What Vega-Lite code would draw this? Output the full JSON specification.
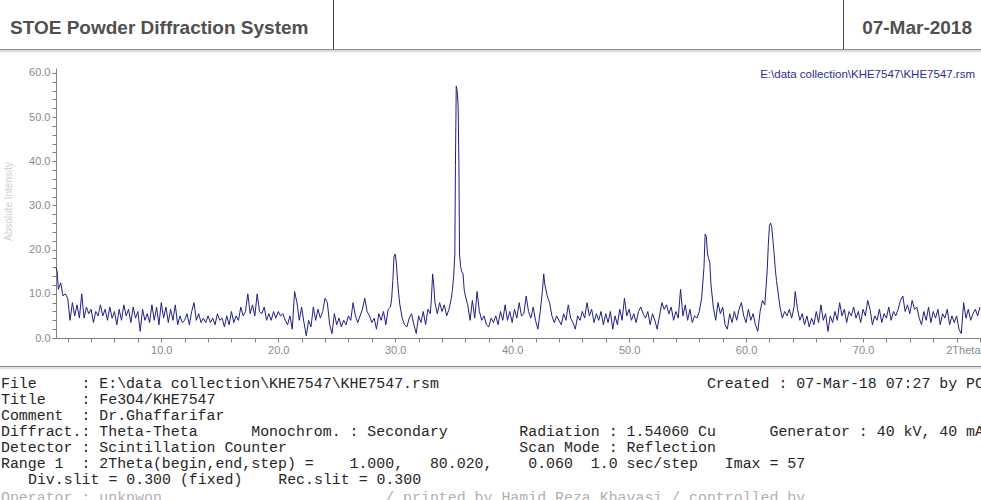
{
  "$schema": "https://vega.github.io/schema/vega-lite/v6.json",
  "width": 924,
  "height": 270,
  "autosize": {"type": "none"},
  "padding": {"left": 56, "top": 68, "right": 1, "bottom": 162},
  "background": "white",
  "config": {"view": {"stroke": null}, "font": "Liberation Sans"},
  "layer": [
    {
      "data": {"values": [{}]},
      "layer": [
        {"mark": {"type": "rule", "color": "#dcdcdc", "strokeWidth": 2.5}, "encoding": {"x": {"value": -56}, "x2": {"value": 925}, "y": {"value": -17}, "y2": {"value": -17}}},
        {"mark": {"type": "rule", "color": "#8c8c8c", "strokeWidth": 1}, "encoding": {"x": {"value": -56}, "x2": {"value": 925}, "y": {"value": -18.5}, "y2": {"value": -18.5}}},
        {"mark": {"type": "rule", "color": "#444444", "strokeWidth": 1}, "encoding": {"x": {"value": 277.5}, "x2": {"value": 277.5}, "y": {"value": -68}, "y2": {"value": -18.5}}},
        {"mark": {"type": "rule", "color": "#444444", "strokeWidth": 1}, "encoding": {"x": {"value": 787.5}, "x2": {"value": 787.5}, "y": {"value": -68}, "y2": {"value": -18.5}}},
        {"mark": {"type": "rule", "color": "#e0e0e0", "strokeWidth": 2.5}, "encoding": {"x": {"value": -56}, "x2": {"value": 925}, "y": {"value": 300}, "y2": {"value": 300}}},
        {"mark": {"type": "rule", "color": "#8c8c8c", "strokeWidth": 1}, "encoding": {"x": {"value": -56}, "x2": {"value": 925}, "y": {"value": 298.5}, "y2": {"value": 298.5}}},
        {"mark": {"type": "text", "x": -46, "y": -34, "align": "left", "baseline": "alphabetic", "font": "Liberation Sans", "fontSize": 19, "fontWeight": "bold", "color": "#505050", "text": "STOE Powder Diffraction System"}, "encoding": {}},
        {"mark": {"type": "text", "x": 916, "y": -34, "align": "right", "baseline": "alphabetic", "font": "Liberation Sans", "fontSize": 19, "fontWeight": "bold", "color": "#505050", "text": "07-Mar-2018"}, "encoding": {}},
        {"mark": {"type": "text", "x": 919, "y": 7, "align": "right", "baseline": "middle", "font": "Liberation Sans", "fontSize": 11.5, "color": "#2b2d8e", "text": "E:\\data collection\\KHE7547\\KHE7547.rsm"}, "encoding": {}},
        {"mark": {"type": "text", "x": -55, "y": 308, "align": "left", "baseline": "top", "font": "Liberation Mono", "fontSize": 14.9, "lineHeight": 16, "color": "#262626", "text": [
          "File\u00a0\u00a0\u00a0\u00a0\u00a0:\u00a0E:\\data\u00a0collection\\KHE7547\\KHE7547.rsm\u00a0\u00a0\u00a0\u00a0\u00a0\u00a0\u00a0\u00a0\u00a0\u00a0\u00a0\u00a0\u00a0\u00a0\u00a0\u00a0\u00a0\u00a0\u00a0\u00a0\u00a0\u00a0\u00a0\u00a0\u00a0\u00a0\u00a0\u00a0\u00a0\u00a0Created\u00a0:\u00a007-Mar-18\u00a007:27\u00a0by\u00a0PC",
          "Title\u00a0\u00a0\u00a0\u00a0:\u00a0Fe3O4/KHE7547",
          "Comment\u00a0\u00a0:\u00a0Dr.Ghaffarifar",
          "Diffract.:\u00a0Theta-Theta\u00a0\u00a0\u00a0\u00a0\u00a0\u00a0Monochrom.\u00a0:\u00a0Secondary\u00a0\u00a0\u00a0\u00a0\u00a0\u00a0\u00a0\u00a0Radiation\u00a0:\u00a01.54060\u00a0Cu\u00a0\u00a0\u00a0\u00a0\u00a0\u00a0Generator\u00a0:\u00a040\u00a0kV,\u00a040\u00a0mA",
          "Detector\u00a0:\u00a0Scintillation\u00a0Counter\u00a0\u00a0\u00a0\u00a0\u00a0\u00a0\u00a0\u00a0\u00a0\u00a0\u00a0\u00a0\u00a0\u00a0\u00a0\u00a0\u00a0\u00a0\u00a0\u00a0\u00a0\u00a0\u00a0\u00a0\u00a0\u00a0Scan\u00a0Mode\u00a0:\u00a0Reflection",
          "Range\u00a01\u00a0\u00a0:\u00a02Theta(begin,end,step)\u00a0=\u00a0\u00a0\u00a0\u00a01.000,\u00a0\u00a0\u00a080.020,\u00a0\u00a0\u00a0\u00a00.060\u00a0\u00a01.0\u00a0sec/step\u00a0\u00a0\u00a0Imax\u00a0=\u00a057"
        ]}, "encoding": {}},
        {"mark": {"type": "text", "x": -28, "y": 404, "align": "left", "baseline": "top", "font": "Liberation Mono", "fontSize": 14.9, "color": "#262626", "text": "Div.slit\u00a0=\u00a00.300\u00a0(fixed)\u00a0\u00a0\u00a0\u00a0Rec.slit\u00a0=\u00a00.300"}, "encoding": {}},
        {"mark": {"type": "text", "x": -55, "y": 422, "align": "left", "baseline": "top", "font": "Liberation Mono", "fontSize": 14.9, "color": "#b0b0b0", "text": "Operator\u00a0:\u00a0unknwon\u00a0\u00a0\u00a0\u00a0\u00a0\u00a0\u00a0\u00a0\u00a0\u00a0\u00a0\u00a0\u00a0\u00a0\u00a0\u00a0\u00a0\u00a0\u00a0\u00a0\u00a0\u00a0\u00a0\u00a0\u00a0/\u00a0printed\u00a0by\u00a0Hamid\u00a0Reza\u00a0Khavasi\u00a0/\u00a0controlled\u00a0by"}, "encoding": {}}
      ]
    },
    {
      "data": {"values": [
        {"angle":1.0,"count":16},{"angle":1.1,"count":15},{"angle":1.2,"count":11},{"angle":1.4,"count":12.5},{"angle":1.6,"count":9.5},{"angle":1.8,"count":10},{"angle":2.0,"count":9},{"angle":2.2,"count":4},{"angle":2.4,"count":8},{"angle":2.6,"count":5},{"angle":2.8,"count":7.5},{"angle":3.0,"count":4.5},{"angle":3.2,"count":10},{"angle":3.4,"count":4.5},{"angle":3.6,"count":7},{"angle":3.8,"count":5.5},{"angle":4.0,"count":6.5},{"angle":4.2,"count":3.5},{"angle":4.4,"count":6},{"angle":4.6,"count":5},{"angle":4.8,"count":7.5},{"angle":5.0,"count":5},{"angle":5.2,"count":6.5},{"angle":5.4,"count":4},{"angle":5.6,"count":7},{"angle":5.8,"count":4.5},{"angle":6.0,"count":6},{"angle":6.2,"count":3},{"angle":6.4,"count":6.5},{"angle":6.6,"count":4},{"angle":6.8,"count":7.5},{"angle":7.0,"count":5},{"angle":7.2,"count":6.5},{"angle":7.4,"count":3.5},{"angle":7.6,"count":7},{"angle":7.8,"count":4.5},{"angle":8.0,"count":6},{"angle":8.2,"count":1.5},{"angle":8.4,"count":6.5},{"angle":8.6,"count":4},{"angle":8.8,"count":5.5},{"angle":9.0,"count":3.5},{"angle":9.2,"count":7.5},{"angle":9.4,"count":4},{"angle":9.6,"count":7},{"angle":9.8,"count":3},{"angle":10.0,"count":8},{"angle":10.2,"count":4.5},{"angle":10.4,"count":7},{"angle":10.6,"count":3.5},{"angle":10.8,"count":6.5},
        {"angle":11.0,"count":4},{"angle":11.2,"count":7.5},{"angle":11.4,"count":3},{"angle":11.6,"count":5},{"angle":11.8,"count":3.5},{"angle":12.0,"count":4},{"angle":12.2,"count":5.5},{"angle":12.4,"count":3},{"angle":12.6,"count":6},{"angle":12.8,"count":8},{"angle":13.0,"count":4},{"angle":13.2,"count":5.5},{"angle":13.4,"count":3.5},{"angle":13.6,"count":4.5},{"angle":13.8,"count":3.5},{"angle":14.0,"count":5},{"angle":14.2,"count":3.5},{"angle":14.4,"count":4.5},{"angle":14.6,"count":3},{"angle":14.8,"count":5.5},{"angle":15.0,"count":4},{"angle":15.2,"count":4.5},{"angle":15.4,"count":2.5},{"angle":15.6,"count":5},{"angle":15.8,"count":3},{"angle":16.0,"count":6},{"angle":16.2,"count":3.5},{"angle":16.4,"count":5},{"angle":16.6,"count":4},{"angle":16.8,"count":7},{"angle":17.0,"count":5},{"angle":17.2,"count":6},{"angle":17.4,"count":10},{"angle":17.6,"count":5.5},{"angle":17.8,"count":7.5},{"angle":18.0,"count":5},{"angle":18.2,"count":10},{"angle":18.4,"count":6},{"angle":18.6,"count":5.5},{"angle":18.8,"count":7},{"angle":19.0,"count":4},{"angle":19.2,"count":5.5},{"angle":19.4,"count":4},{"angle":19.6,"count":6},{"angle":19.8,"count":4.5},{"angle":20.0,"count":6},{"angle":20.2,"count":5},{"angle":20.4,"count":5.5},{"angle":20.6,"count":4},{"angle":20.8,"count":3},
        {"angle":21.0,"count":5},{"angle":21.2,"count":2},{"angle":21.4,"count":10.5},{"angle":21.6,"count":8},{"angle":21.8,"count":4},{"angle":22.0,"count":7},{"angle":22.2,"count":3.5},{"angle":22.4,"count":0.5},{"angle":22.6,"count":4},{"angle":22.8,"count":2.5},{"angle":23.0,"count":7},{"angle":23.2,"count":4},{"angle":23.4,"count":6.5},{"angle":23.6,"count":4.5},{"angle":23.8,"count":6},{"angle":24.0,"count":9},{"angle":24.2,"count":8},{"angle":24.4,"count":3},{"angle":24.6,"count":1},{"angle":24.8,"count":5.5},{"angle":25.0,"count":3},{"angle":25.2,"count":4.5},{"angle":25.4,"count":2.5},{"angle":25.6,"count":4},{"angle":25.8,"count":3},{"angle":26.0,"count":5},{"angle":26.2,"count":4},{"angle":26.4,"count":8},{"angle":26.6,"count":5},{"angle":26.8,"count":3.5},{"angle":27.0,"count":5},{"angle":27.2,"count":6.5},{"angle":27.4,"count":9},{"angle":27.6,"count":6},{"angle":27.8,"count":5},{"angle":28.0,"count":3.5},{"angle":28.2,"count":4.5},{"angle":28.4,"count":2},{"angle":28.6,"count":5.5},{"angle":28.8,"count":4},{"angle":29.0,"count":6},{"angle":29.2,"count":3},{"angle":29.4,"count":6.5},{"angle":29.6,"count":7},{"angle":29.7,"count":9},{"angle":29.8,"count":13},{"angle":29.9,"count":18.5},{"angle":30.0,"count":19},{"angle":30.1,"count":17},{"angle":30.2,"count":13},{"angle":30.3,"count":10},{"angle":30.4,"count":7.5},{"angle":30.6,"count":4.5},{"angle":30.8,"count":3},
        {"angle":31.0,"count":2.5},{"angle":31.2,"count":4.5},{"angle":31.4,"count":5.5},{"angle":31.6,"count":3},{"angle":31.8,"count":1},{"angle":32.0,"count":5},{"angle":32.2,"count":3.5},{"angle":32.4,"count":6},{"angle":32.6,"count":3},{"angle":32.8,"count":6.5},{"angle":33.0,"count":5.5},{"angle":33.1,"count":9},{"angle":33.2,"count":14.5},{"angle":33.3,"count":12},{"angle":33.4,"count":8},{"angle":33.6,"count":5.5},{"angle":33.8,"count":8},{"angle":34.0,"count":6},{"angle":34.2,"count":7.5},{"angle":34.4,"count":5},{"angle":34.6,"count":6.5},{"angle":34.8,"count":9},{"angle":34.9,"count":11},{"angle":35.0,"count":14},{"angle":35.1,"count":19},{"angle":35.15,"count":39},{"angle":35.22,"count":57},{"angle":35.3,"count":56},{"angle":35.38,"count":52.5},{"angle":35.45,"count":39},{"angle":35.5,"count":19},{"angle":35.6,"count":16},{"angle":35.7,"count":15},{"angle":35.8,"count":14.5},{"angle":35.9,"count":11},{"angle":36.0,"count":9.5},{"angle":36.2,"count":7.5},{"angle":36.4,"count":4},{"angle":36.6,"count":8.5},{"angle":36.8,"count":4.5},{"angle":37.0,"count":10.5},{"angle":37.2,"count":6},{"angle":37.4,"count":4},{"angle":37.6,"count":5},{"angle":37.8,"count":3},{"angle":38.0,"count":2.5},{"angle":38.2,"count":4.5},{"angle":38.4,"count":3.5},{"angle":38.6,"count":5},{"angle":38.8,"count":3},{"angle":39.0,"count":6},{"angle":39.2,"count":4},{"angle":39.4,"count":7.5},{"angle":39.6,"count":4},{"angle":39.8,"count":6},{"angle":40.0,"count":3.5},{"angle":40.2,"count":6.5},{"angle":40.4,"count":4.5},{"angle":40.6,"count":8},{"angle":40.8,"count":5},
        {"angle":41.0,"count":5.5},{"angle":41.2,"count":9.5},{"angle":41.4,"count":6},{"angle":41.6,"count":4.5},{"angle":41.8,"count":7},{"angle":42.0,"count":4},{"angle":42.2,"count":2},{"angle":42.4,"count":6},{"angle":42.6,"count":11},{"angle":42.7,"count":14.5},{"angle":42.8,"count":12},{"angle":43.0,"count":9.5},{"angle":43.2,"count":8},{"angle":43.4,"count":5},{"angle":43.6,"count":3.5},{"angle":43.8,"count":5},{"angle":44.0,"count":4},{"angle":44.2,"count":3},{"angle":44.4,"count":5.5},{"angle":44.6,"count":4},{"angle":44.8,"count":7.5},{"angle":45.0,"count":4.5},{"angle":45.2,"count":3.5},{"angle":45.4,"count":2},{"angle":45.6,"count":5},{"angle":45.8,"count":4},{"angle":46.0,"count":6},{"angle":46.2,"count":4.5},{"angle":46.4,"count":8},{"angle":46.6,"count":5},{"angle":46.8,"count":6.5},{"angle":47.0,"count":3.5},{"angle":47.2,"count":5.5},{"angle":47.4,"count":4},{"angle":47.6,"count":6},{"angle":47.8,"count":3},{"angle":48.0,"count":5.5},{"angle":48.2,"count":3.5},{"angle":48.4,"count":6},{"angle":48.6,"count":2},{"angle":48.8,"count":5},{"angle":49.0,"count":3},{"angle":49.2,"count":6.5},{"angle":49.4,"count":4},{"angle":49.6,"count":9},{"angle":49.8,"count":5},{"angle":50.0,"count":6.5},{"angle":50.2,"count":4},{"angle":50.4,"count":5.5},{"angle":50.6,"count":3.5},{"angle":50.8,"count":6},
        {"angle":51.0,"count":7},{"angle":51.2,"count":5.5},{"angle":51.4,"count":4.5},{"angle":51.6,"count":6},{"angle":51.8,"count":3},{"angle":52.0,"count":5.5},{"angle":52.2,"count":4},{"angle":52.4,"count":2},{"angle":52.6,"count":5},{"angle":52.8,"count":8},{"angle":53.0,"count":6.5},{"angle":53.2,"count":7.5},{"angle":53.4,"count":5.5},{"angle":53.6,"count":7},{"angle":53.8,"count":4},{"angle":54.0,"count":6},{"angle":54.2,"count":4.5},{"angle":54.4,"count":11},{"angle":54.6,"count":5},{"angle":54.8,"count":7.5},{"angle":55.0,"count":4},{"angle":55.2,"count":6.5},{"angle":55.4,"count":3.5},{"angle":55.6,"count":5},{"angle":55.8,"count":4.5},{"angle":56.0,"count":6},{"angle":56.2,"count":9},{"angle":56.4,"count":16},{"angle":56.5,"count":23.5},{"angle":56.6,"count":23},{"angle":56.7,"count":19},{"angle":56.8,"count":18},{"angle":56.9,"count":17},{"angle":57.0,"count":12},{"angle":57.2,"count":7},{"angle":57.4,"count":4},{"angle":57.6,"count":8},{"angle":57.8,"count":5.5},{"angle":58.0,"count":7},{"angle":58.2,"count":3},{"angle":58.4,"count":2},{"angle":58.6,"count":5.5},{"angle":58.8,"count":3.5},{"angle":59.0,"count":6},{"angle":59.2,"count":4},{"angle":59.4,"count":6.5},{"angle":59.6,"count":8},{"angle":59.8,"count":5},{"angle":60.0,"count":3.5},{"angle":60.2,"count":6.5},{"angle":60.4,"count":4},{"angle":60.6,"count":5.5},{"angle":60.8,"count":3},
        {"angle":61.0,"count":1.5},{"angle":61.2,"count":6},{"angle":61.4,"count":8.5},{"angle":61.6,"count":7.5},{"angle":61.8,"count":15},{"angle":61.9,"count":21},{"angle":62.0,"count":25.5},{"angle":62.1,"count":26},{"angle":62.2,"count":25},{"angle":62.3,"count":22},{"angle":62.4,"count":19},{"angle":62.5,"count":15.5},{"angle":62.6,"count":13},{"angle":62.7,"count":11},{"angle":62.9,"count":7},{"angle":63.1,"count":4.5},{"angle":63.3,"count":6},{"angle":63.5,"count":5},{"angle":63.7,"count":6.5},{"angle":63.9,"count":4.5},{"angle":64.1,"count":7},{"angle":64.2,"count":10.5},{"angle":64.4,"count":6.5},{"angle":64.6,"count":4},{"angle":64.8,"count":5.5},{"angle":65.0,"count":3},{"angle":65.2,"count":5},{"angle":65.4,"count":2.5},{"angle":65.6,"count":4.5},{"angle":65.8,"count":3},{"angle":66.0,"count":6},{"angle":66.2,"count":3.5},{"angle":66.4,"count":7.5},{"angle":66.6,"count":4},{"angle":66.8,"count":5.5},{"angle":67.0,"count":1.5},{"angle":67.2,"count":5},{"angle":67.4,"count":3.5},{"angle":67.6,"count":6},{"angle":67.8,"count":4},{"angle":68.0,"count":8},{"angle":68.2,"count":5},{"angle":68.4,"count":6.5},{"angle":68.6,"count":3.5},{"angle":68.8,"count":6},{"angle":69.0,"count":5},{"angle":69.2,"count":7},{"angle":69.4,"count":4.5},{"angle":69.6,"count":6},{"angle":69.8,"count":3.5},{"angle":70.0,"count":6.5},{"angle":70.2,"count":5},{"angle":70.4,"count":8.5},{"angle":70.6,"count":6.5},{"angle":70.8,"count":3},
        {"angle":71.0,"count":5},{"angle":71.2,"count":4},{"angle":71.4,"count":6.5},{"angle":71.6,"count":3.5},{"angle":71.8,"count":5.5},{"angle":72.0,"count":4.5},{"angle":72.2,"count":7},{"angle":72.4,"count":4},{"angle":72.6,"count":6},{"angle":72.8,"count":5},{"angle":73.0,"count":6.5},{"angle":73.2,"count":8.5},{"angle":73.4,"count":9.5},{"angle":73.6,"count":6},{"angle":73.8,"count":7.5},{"angle":74.0,"count":5.5},{"angle":74.2,"count":8.5},{"angle":74.4,"count":6.5},{"angle":74.6,"count":7},{"angle":74.8,"count":4.5},{"angle":75.0,"count":3},{"angle":75.2,"count":6},{"angle":75.4,"count":4},{"angle":75.6,"count":7},{"angle":75.8,"count":3.5},{"angle":76.0,"count":6},{"angle":76.2,"count":4.5},{"angle":76.4,"count":6.5},{"angle":76.6,"count":3},{"angle":76.8,"count":5.5},{"angle":77.0,"count":4.5},{"angle":77.2,"count":6.5},{"angle":77.4,"count":3},{"angle":77.6,"count":5},{"angle":77.8,"count":3.5},{"angle":78.0,"count":5},{"angle":78.2,"count":2},{"angle":78.4,"count":1},{"angle":78.6,"count":8},{"angle":78.8,"count":4.5},{"angle":79.0,"count":6.5},{"angle":79.2,"count":4},{"angle":79.4,"count":5.5},{"angle":79.6,"count":6.5},{"angle":79.8,"count":5},{"angle":80.0,"count":7}
      ]},
      "mark": {"type": "line", "color": "#1f1f86", "strokeWidth": 1},
      "encoding": {
        "x": {
          "field": "angle", "type": "quantitative",
          "scale": {"domain": [1, 80], "nice": false, "zero": false},
          "axis": {
            "title": null,
            "values": [2,4,6,8,10,12,14,16,18,20,22,24,26,28,30,32,34,36,38,40,42,44,46,48,50,52,54,56,58,60,62,64,66,68,70,72,74,76,78,80],
            "labelExpr": "datum.value == 80 ? '2Theta' : (datum.value % 10 == 0 ? format(datum.value, '.1f') : '')",
            "labelAlign": {"condition": {"test": "datum.value == 80", "value": "right"}, "value": "center"},
            "labelOverlap": false, "labelFlush": false, "labelBound": false,
            "labelColor": "#8a8a8a", "labelFontSize": 11, "labelFont": "Liberation Sans", "labelPadding": 2,
            "tickSize": 4, "tickColor": "#808080", "domainColor": "#808080", "grid": false
          }
        },
        "y": {
          "field": "count", "type": "quantitative",
          "scale": {"domain": [0, 61.1], "nice": false},
          "axis": {
            "values": [0,2,4,6,8,10,12,14,16,18,20,22,24,26,28,30,32,34,36,38,40,42,44,46,48,50,52,54,56,58,60],
            "labelExpr": "datum.value % 10 == 0 ? format(datum.value, '.1f') : ''",
            "labelOverlap": false, "labelFlush": false, "labelBound": false,
            "labelColor": "#8a8a8a", "labelFontSize": 11, "labelFont": "Liberation Sans", "labelPadding": 2,
            "tickSize": 4, "tickColor": "#808080", "domainColor": "#808080", "grid": false,
            "title": "Absolute Intensity", "titleColor": "#cfcfcf", "titleFontSize": 10, "titleFontWeight": "normal", "titleFont": "Liberation Sans",
            "titleX": -48, "titleY": 133, "titleAngle": -90, "titleAlign": "center", "titleBaseline": "middle"
          }
        }
      }
    }
  ]
}
